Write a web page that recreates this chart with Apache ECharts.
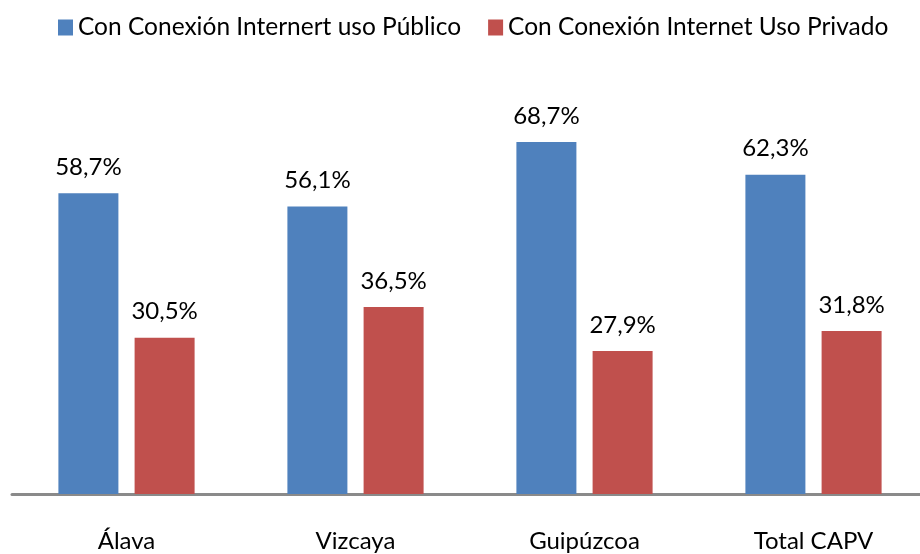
<!DOCTYPE html>
<html>
<head>
<meta charset="utf-8">
<script src="https://cdn.jsdelivr.net/npm/echarts@6/dist/echarts.min.js"></script>
<style>
  html, body { margin: 0; padding: 0; background: #fff; }
  #chart-container { width: 920px; height: 554px; }
</style>
</head>
<body>
<div id="chart-container"></div>
<script>
var categories = ['Álava', 'Vizcaya', 'Guipúzcoa', 'Total CAPV'];
var seriesNames = ['Con Conexión Internert uso Público', 'Con Conexión Internet Uso Privado'];
var publicoValues = [58.7, 56.1, 68.7, 62.3];
var privadoValues = [30.5, 36.5, 27.9, 31.8];

var font = 'Lato, "Open Sans", sans-serif';

var myChart = echarts.init(document.getElementById('chart-container'));

function labelFmt(p) {
  return p.value.toFixed(1).replace('.', ',') + '%';
}

var option = {
  animation: false,
  textStyle: { fontFamily: font },
  legend: {
    left: 53,
    top: 10,
    itemWidth: 15,
    itemHeight: 16,
    itemGap: 27,
    icon: 'rect',
    textStyle: { fontFamily: font, fontSize: 24.5, color: '#000' },
    data: seriesNames
  },
  grid: {
    left: 12,
    width: 916,
    top: 84,
    bottom: 60,
    outerBoundsMode: 'none'
  },
  xAxis: {
    type: 'category',
    data: categories,
    axisLine: { lineStyle: { color: '#8a8a8a', width: 3 } },
    axisTick: { show: false },
    axisLabel: { fontFamily: font, fontSize: 24, color: '#000', margin: 35 }
  },
  yAxis: {
    type: 'value',
    min: 0,
    max: 80,
    show: false,
    splitLine: { show: false }
  },
  series: [
    {
      name: seriesNames[0],
      type: 'bar',
      data: publicoValues,
      barWidth: 60,
      barGap: '27%',
      itemStyle: { color: '#4F81BD' },
      label: {
        show: true,
        position: 'top',
        distance: 14,
        fontFamily: font,
        fontSize: 24,
        color: '#000',
        formatter: labelFmt
      }
    },
    {
      name: seriesNames[1],
      type: 'bar',
      data: privadoValues,
      barWidth: 60,
      barGap: '27%',
      itemStyle: { color: '#C0504D' },
      label: {
        show: true,
        position: 'top',
        distance: 14,
        fontFamily: font,
        fontSize: 24,
        color: '#000',
        formatter: labelFmt
      }
    }
  ]
};

myChart.setOption(option);
</script>
</body>
</html>
